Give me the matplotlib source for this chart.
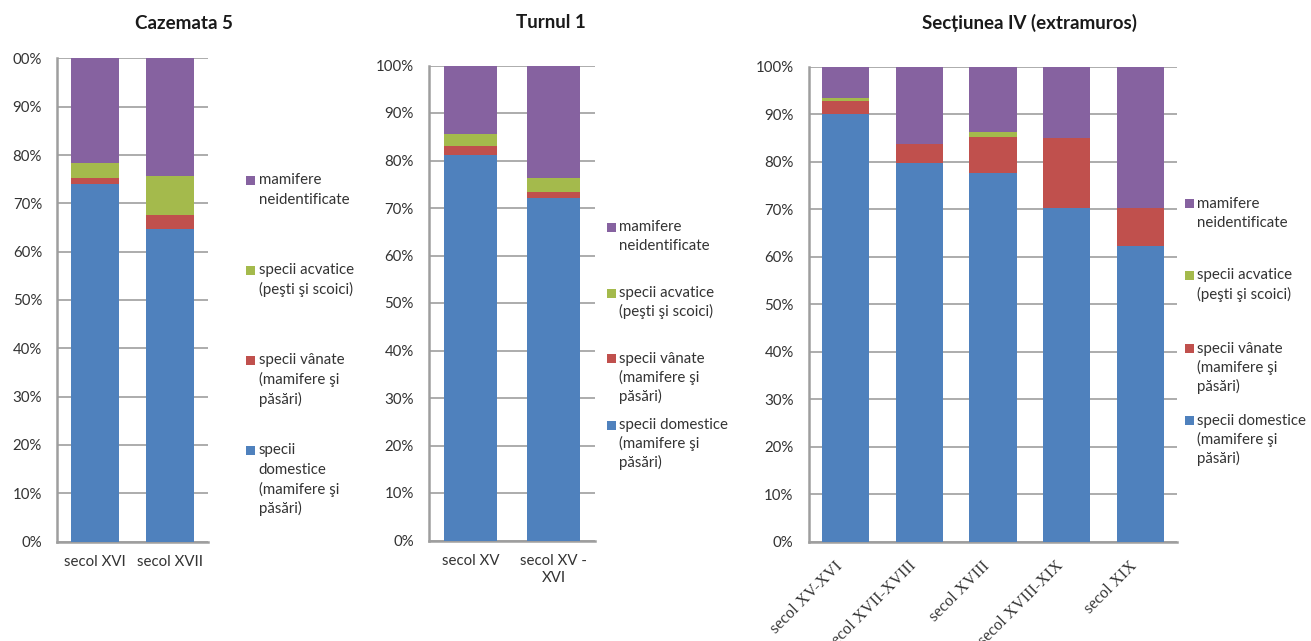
import matplotlib
matplotlib.use("Agg")
import matplotlib.pyplot as plt
import matplotlib.patches as mpatches
import numpy as np

plt.rcParams["font.family"] = ["Lato", "DejaVu Sans"]

W, H = 1311, 641

# ---- data (percent of each bar) ----
caz_cats = ["secol XVI", "secol XVII"]
caz_dom = [73.9, 64.6]
caz_van = [1.4, 2.9]
caz_acv = [3.1, 8.1]
caz_mam = [21.6, 24.4]

tur_cats = ["secol XV", "secol XV -\nXVI"]
tur_dom = [81.1, 72.2]
tur_van = [2.0, 1.2]
tur_acv = [2.5, 2.9]
tur_mam = [14.4, 23.7]

sec_cats = ["secol XV-XVI", "secol XVII-XVIII", "secol XVIII",
            "secol XVIII-XIX", "secol XIX"]
sec_dom = [90.0, 79.7, 77.7, 70.3, 62.2]
sec_van = [2.9, 4.0, 7.6, 14.7, 8.1]
sec_acv = [0.6, 0.0, 0.9, 0.0, 0.0]
sec_mam = [6.5, 16.3, 13.8, 15.0, 29.7]

yticks = [0, 10, 20, 30, 40, 50, 60, 70, 80, 90, 100]
ytick_labels = [f"{v}%" for v in yticks]
caz_ytick_labels = ytick_labels[:-1] + ["00%"]   # top label is cut in the source

C_DOM = "#4F81BD"
C_VAN = "#C0504D"
C_ACV = "#A4BA4C"
C_MAM = "#8662A0"
TXT = "#333333"
GRID = "#A6A6A6"

fig = plt.figure(figsize=(W / 100, H / 100), dpi=100)


def axes_px(left, top, right, bottom):
    return fig.add_axes([left / W, 1 - bottom / H,
                         (right - left) / W, (bottom - top) / H])


def stacked(ax, cats, dom, van, acv, mam, ylabels):
    x = np.arange(len(cats))
    dom, van, acv, mam = map(np.asarray, (dom, van, acv, mam))
    w = 0.643
    ax.bar(x, dom, w, color=C_DOM, zorder=3)
    ax.bar(x, van, w, bottom=dom, color=C_VAN, zorder=3)
    ax.bar(x, acv, w, bottom=dom + van, color=C_ACV, zorder=3)
    ax.bar(x, mam, w, bottom=dom + van + acv, color=C_MAM, zorder=3)
    ax.set_xlim(-0.5, len(cats) - 0.5)
    ax.set_ylim(0, 100)
    ax.set_yticks(yticks)
    ax.set_yticklabels(ylabels, fontsize=10.8, color=TXT)
    ax.yaxis.grid(True, color=GRID, lw=1.3, zorder=0)
    ax.set_axisbelow(True)
    for s in ("top", "right"):
        ax.spines[s].set_visible(False)
    for s in ("left", "bottom"):
        ax.spines[s].set_color("#9E9E9E")
        ax.spines[s].set_linewidth(1.8)
    ax.tick_params(axis="y", length=0, pad=11)
    ax.tick_params(axis="x", length=0, pad=10)
    ax.set_xticks(x)
    return x


def legend_px(sq_x, txt_x, first_lines, step, entries):
    for y0, (label, col) in zip(first_lines, entries):
        fig.patches.append(mpatches.Rectangle(
            (sq_x / W, 1 - (y0 + 4.5) / H), 9 / W, 9 / H,
            transform=fig.transFigure, facecolor=col, edgecolor="none"))
        for i, line in enumerate(label.split("\n")):
            fig.text(txt_x / W, 1 - (y0 + i * step) / H, line,
                     fontsize=10.8, color=TXT, ha="left", va="center")


# ---- Cazemata 5 ----
ax1 = axes_px(57.3, 58.4, 207.7, 541.5)
x1 = stacked(ax1, caz_cats, caz_dom, caz_van, caz_acv, caz_mam, caz_ytick_labels)
ax1.set_xticklabels(caz_cats, fontsize=10.8, color=TXT)
fig.text(184 / W, 1 - 23.5 / H, "Cazemata 5", fontsize=13.5,
         fontweight="bold", color="#1a1a1a", ha="center", va="center")
legend_px(246, 258.7, [180, 270, 360, 450], 19.5, [
    ("mamifere\nneidentificate", C_MAM),
    ("specii acvatice\n(peşti şi scoici)", C_ACV),
    ("specii vânate\n(mamifere şi\npăsări)", C_VAN),
    ("specii\ndomestice\n(mamifere şi\npăsări)", C_DOM),
])

# ---- Turnul 1 ----
ax2 = axes_px(429, 65.5, 595.3, 540.5)
x2 = stacked(ax2, tur_cats, tur_dom, tur_van, tur_acv, tur_mam, ytick_labels)
ax2.set_xticklabels(tur_cats, fontsize=10.8, color=TXT, linespacing=1.25)
fig.text(551 / W, 1 - 22.5 / H, "Turnul 1", fontsize=13.5,
         fontweight="bold", color="#1a1a1a", ha="center", va="center")
legend_px(607, 619.3, [227, 293, 359, 425], 18.8, [
    ("mamifere\nneidentificate", C_MAM),
    ("specii acvatice\n(peşti şi scoici)", C_ACV),
    ("specii vânate\n(mamifere şi\npăsări)", C_VAN),
    ("specii domestice\n(mamifere şi\npăsări)", C_DOM),
])

# ---- Secțiunea IV ----
ax3 = axes_px(808.9, 66.8, 1177.3, 541.5)
x3 = stacked(ax3, sec_cats, sec_dom, sec_van, sec_acv, sec_mam, ytick_labels)
ax3.set_xticklabels(sec_cats, fontsize=11.8, color=TXT, rotation=45,
                    ha="right", va="top", family="Liberation Serif")
ax3.tick_params(axis="x", pad=12)
fig.text(1030 / W, 1 - 22.5 / H, "Secțiunea IV (extramuros)", fontsize=13.5,
         fontweight="bold", color="#1a1a1a", ha="center", va="center")
legend_px(1185, 1197, [203.5, 275.5, 348.5, 420.5], 19.2, [
    ("mamifere\nneidentificate", C_MAM),
    ("specii acvatice\n(peşti şi scoici)", C_ACV),
    ("specii vânate\n(mamifere şi\npăsări)", C_VAN),
    ("specii domestice\n(mamifere şi\npăsări)", C_DOM),
])

fig.savefig("out.png", dpi=100)
